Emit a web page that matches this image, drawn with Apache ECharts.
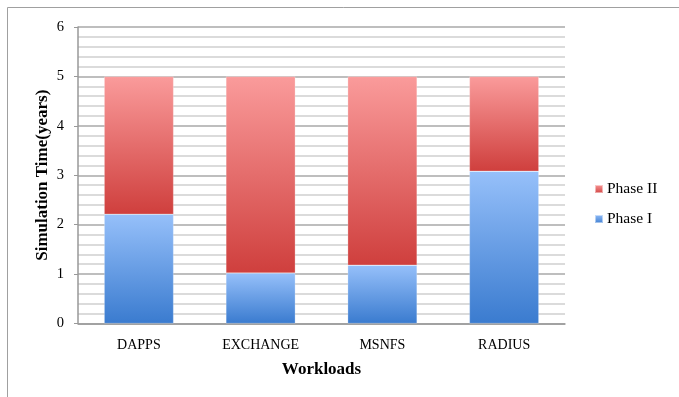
<!DOCTYPE html>
<html>
<head>
<meta charset="utf-8">
<script src="https://cdn.jsdelivr.net/npm/echarts@6/dist/echarts.min.js"></script>
<style>
  html, body { margin: 0; padding: 0; background: #fff; }
  #chart { width: 679px; height: 397px; }
</style>
</head>
<body>
<div id="chart"></div>
<script>
// Workloads and simulated years spent in each phase
const workloads = ['DAPPS', 'EXCHANGE', 'MSNFS', 'RADIUS'];
const phaseOne = [2.21, 1.02, 1.18, 3.08];
const phaseTwo = [2.79, 3.98, 3.82, 1.92];
const yTicks = [0, 1, 2, 3, 4, 5, 6];

const font = 'Liberation Serif, Times New Roman, serif';

function vGrad(top, bottom) {
  return new echarts.graphic.LinearGradient(0, 0, 0, 1, [
    { offset: 0, color: top },
    { offset: 1, color: bottom }
  ]);
}

const chart = echarts.init(document.getElementById('chart'), null, { renderer: 'canvas' });

chart.setOption({
  animation: false,
  backgroundColor: '#ffffff',
  graphic: [{
    type: 'rect',
    shape: { x: 7.5, y: 7.5, width: 700, height: 420 },
    style: { fill: 'none', stroke: '#a0a0a0', lineWidth: 1 },
    silent: true,
    z: -1
  }],
  grid: { left: 78, right: 114, top: 27, bottom: 73.5 },
  legend: {
    orient: 'vertical',
    left: 594,
    top: 181,
    padding: 0,
    itemWidth: 8,
    itemHeight: 8,
    itemGap: 14,
    icon: 'rect',
    data: ['Phase II', 'Phase I'],
    textStyle: { fontFamily: font, fontSize: 15.5, color: '#000', padding: [0, 0, 0, -1] }
  },
  xAxis: {
    type: 'category',
    data: workloads,
    name: 'Workloads',
    nameLocation: 'middle',
    nameGap: 38,
    nameMoveOverlap: false,
    nameTextStyle: { fontFamily: font, fontSize: 17, fontWeight: 'bold', color: '#000' },
    axisLine: { lineStyle: { color: '#999', width: 1.5 } },
    axisTick: { show: false },
    axisLabel: { fontFamily: font, fontSize: 14, color: '#000', margin: 15 }
  },
  yAxis: {
    type: 'value',
    min: yTicks[0],
    max: yTicks[yTicks.length - 1],
    interval: 1,
    name: 'Simulation Time(years)',
    nameLocation: 'middle',
    nameGap: 27,
    nameMoveOverlap: false,
    nameTextStyle: { fontFamily: font, fontSize: 17, fontWeight: 'bold', color: '#000' },
    axisLine: { show: true, lineStyle: { color: '#999', width: 1.5 } },
    axisTick: { show: true, length: 4, lineStyle: { color: '#999' } },
    axisLabel: { fontFamily: font, fontSize: 14.5, color: '#000', margin: 14 },
    splitLine: { show: true, lineStyle: { color: '#a8a8a8', width: 1.5 } },
    minorTick: { show: false, splitNumber: 5 },
    minorSplitLine: { show: true, lineStyle: { color: '#cfcfcf', width: 1.5 } }
  },
  series: [
    {
      name: 'Phase I',
      type: 'bar',
      stack: 'total',
      barWidth: '57%',
      data: phaseOne,
      itemStyle: {
        color: vGrad('#96c0fa', '#3a7bcf'),
        borderColor: 'rgba(255,255,255,0.5)',
        borderWidth: 0.5
      }
    },
    {
      name: 'Phase II',
      type: 'bar',
      stack: 'total',
      barWidth: '57%',
      data: phaseTwo,
      itemStyle: {
        color: vGrad('#fa9b9b', '#cf3f3d'),
        borderColor: 'rgba(255,255,255,0.5)',
        borderWidth: 0.5
      }
    }
  ]
});
</script>
</body>
</html>
